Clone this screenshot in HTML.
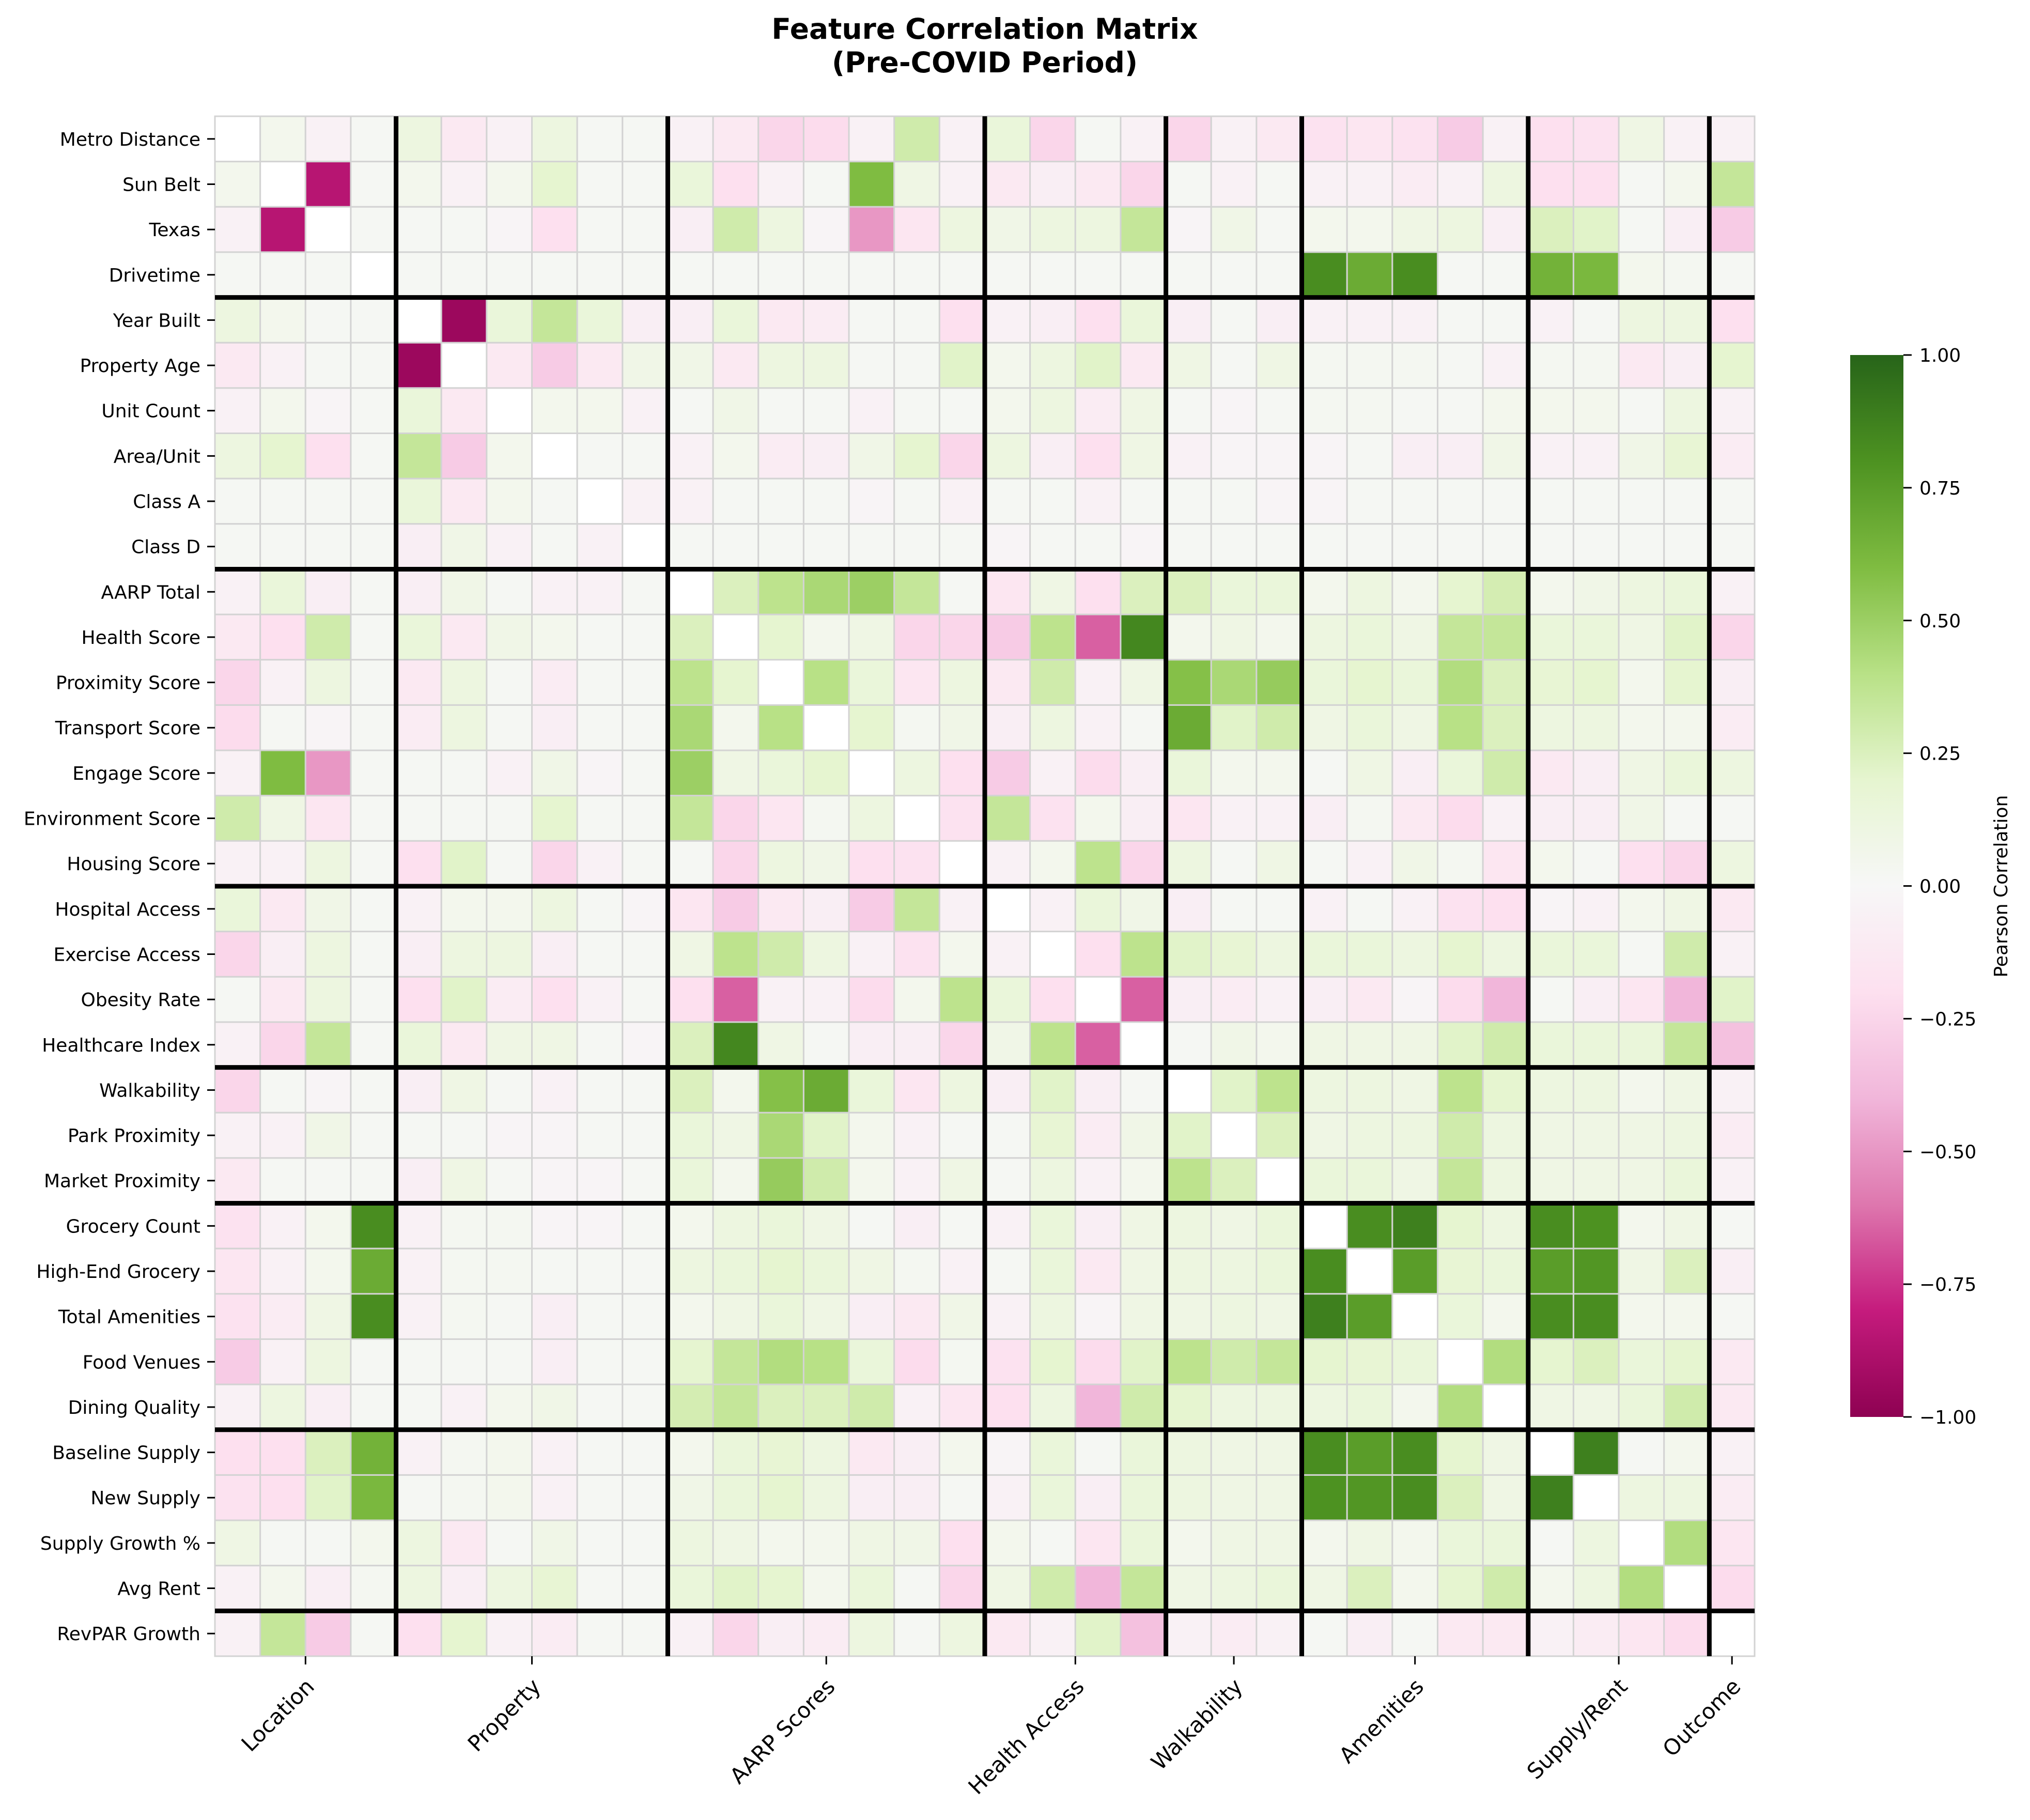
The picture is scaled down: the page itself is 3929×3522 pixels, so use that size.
<!DOCTYPE html>
<html><head><meta charset="utf-8"><title>Feature Correlation Matrix</title>
<style>html,body{margin:0;padding:0;background:#fff}svg{display:block}text{font-family:"DejaVu Sans","Liberation Sans",sans-serif;fill:#000}</style>
</head><body>
<svg id="chart" xmlns="http://www.w3.org/2000/svg" width="3929" height="3522" viewBox="0 0 3929 3522">
<rect x="0" y="0" width="3929" height="3522" fill="#fff"/>
<text x="1906" y="75" text-anchor="middle" font-size="55" font-weight="bold">Feature Correlation Matrix</text>
<text x="1906" y="140" text-anchor="middle" font-size="55" font-weight="bold">(Pre-COVID Period)</text>
<g id="cells"></g>
<g id="seps"></g>
<g id="ylab"></g>
<g id="xlab"></g>
<defs><linearGradient id="cbg" x1="0" y1="1" x2="0" y2="0"></linearGradient></defs>
<rect x="3581" y="687" width="103" height="2055" fill="url(#cbg)"/>
<g id="cbticks"></g>
<text transform="translate(3885,1715) rotate(-90)" text-anchor="middle" font-size="36">Pearson Correlation</text>
</svg>
<script>
const labels = ["Metro Distance","Sun Belt","Texas","Drivetime","Year Built","Property Age","Unit Count","Area/Unit","Class A","Class D","AARP Total","Health Score","Proximity Score","Transport Score","Engage Score","Environment Score","Housing Score","Hospital Access","Exercise Access","Obesity Rate","Healthcare Index","Walkability","Park Proximity","Market Proximity","Grocery Count","High-End Grocery","Total Amenities","Food Venues","Dining Quality","Baseline Supply","New Supply","Supply Growth %","Avg Rent","RevPAR Growth"];
const groupNames = ["Location","Property","AARP Scores","Health Access","Walkability","Amenities","Supply/Rent","Outcome"];
const groupSizes = [4,6,7,4,3,5,4,1];
const cbTicks = [1.0,0.75,0.5,0.25,0.0,-0.25,-0.5,-0.75,-1.0];
const cbTickLabels = ["1.00","0.75","0.50","0.25","0.00","\u22120.25","\u22120.50","\u22120.75","\u22121.00"];
// lower triangle: row i has i values (columns 0..i-1)
const lowerTri = [
[],
[0.05],
[-0.05,-0.85],
[0.02,0.02,0.02],
[0.12,0.05,0.02,0.02],
[-0.12,-0.05,0.02,0.02,-0.95],
[-0.05,0.05,-0.03,0.02,0.15,-0.12],
[0.12,0.2,-0.2,0.02,0.35,-0.3,0.05],
[0.02,0.02,0.02,0.02,0.15,-0.12,0.05,0.02],
[0.02,0.02,0.02,0.02,-0.08,0.08,-0.05,0.02,-0.05],
[-0.05,0.15,-0.08,0.02,-0.08,0.08,0.02,-0.05,-0.05,0.02],
[-0.12,-0.2,0.3,0.02,0.15,-0.12,0.08,0.05,0.02,0.02,0.25],
[-0.25,-0.05,0.12,0.02,-0.12,0.12,0.02,-0.1,0.02,0.02,0.38,0.2],
[-0.22,0.02,-0.03,0.02,-0.1,0.12,0.02,-0.08,0.02,0.02,0.45,0.05,0.4],
[-0.05,0.6,-0.5,0.02,0.02,0.02,-0.05,0.08,-0.03,0.02,0.5,0.1,0.15,0.2],
[0.3,0.1,-0.15,0.02,0.02,0.02,0.02,0.2,0.02,0.02,0.35,-0.25,-0.15,0.03,0.12],
[-0.05,-0.05,0.12,0.02,-0.2,0.22,0.02,-0.25,-0.05,0.02,0.02,-0.25,0.12,0.08,-0.2,-0.18],
[0.15,-0.12,0.08,0.02,-0.05,0.05,0.05,0.12,0.02,-0.03,-0.15,-0.3,-0.12,-0.08,-0.3,0.35,-0.05],
[-0.25,-0.08,0.12,0.02,-0.08,0.12,0.12,-0.08,0.02,0.02,0.1,0.38,0.3,0.12,-0.05,-0.18,0.05,-0.05],
[0.02,-0.12,0.12,0.02,-0.2,0.22,-0.1,-0.2,-0.05,0.02,-0.2,-0.65,-0.05,-0.05,-0.22,0.05,0.38,0.15,-0.2],
[-0.05,-0.25,0.35,0.02,0.15,-0.12,0.1,0.1,0.02,-0.03,0.25,0.85,0.1,0.02,-0.08,-0.08,-0.25,0.08,0.38,-0.65],
[-0.25,0.02,-0.03,0.02,-0.08,0.1,0.02,-0.05,0.02,0.02,0.25,0.05,0.58,0.68,0.15,-0.15,0.12,-0.08,0.22,-0.08,0.02],
[-0.05,-0.05,0.08,0.02,0.02,0.02,-0.03,-0.03,0.02,0.02,0.15,0.1,0.45,0.22,0.05,-0.05,0.02,0.02,0.18,-0.1,0.08,0.22],
[-0.12,0.02,0.02,0.02,-0.08,0.1,0.02,-0.03,-0.03,0.02,0.15,0.05,0.52,0.3,0.05,-0.05,0.1,0.02,0.12,-0.05,0.05,0.38,0.25],
[-0.18,-0.05,0.05,0.82,-0.05,0.03,0.03,-0.03,-0.03,0.02,0.05,0.12,0.15,0.1,0.02,-0.08,0.02,-0.05,0.15,-0.08,0.1,0.12,0.1,0.15],
[-0.15,-0.05,0.05,0.68,-0.05,0.03,0.03,0.02,0.02,0.02,0.12,0.15,0.2,0.15,0.1,0.03,-0.05,0.02,0.15,-0.12,0.1,0.12,0.12,0.15,0.82],
[-0.18,-0.1,0.1,0.82,-0.05,0.03,0.02,-0.08,0.02,0.02,0.05,0.1,0.15,0.1,-0.08,-0.12,0.08,-0.05,0.12,-0.03,0.1,0.1,0.12,0.1,0.88,0.75],
[-0.3,-0.05,0.12,0.02,0.02,0.02,0.02,-0.08,0.02,0.02,0.2,0.35,0.42,0.4,0.15,-0.22,0.03,-0.18,0.2,-0.22,0.22,0.38,0.3,0.35,0.2,0.18,0.15],
[-0.05,0.12,-0.08,0.02,0.02,-0.05,0.05,0.08,0.02,0.02,0.28,0.35,0.25,0.25,0.3,-0.05,-0.15,-0.2,0.12,-0.4,0.3,0.2,0.12,0.12,0.12,0.15,0.05,0.42],
[-0.2,-0.2,0.25,0.65,-0.05,0.03,0.05,-0.05,0.02,0.02,0.05,0.15,0.18,0.12,-0.12,-0.08,0.05,-0.03,0.15,0.02,0.15,0.12,0.1,0.1,0.82,0.75,0.82,0.2,0.1],
[-0.18,-0.2,0.22,0.62,0.02,0.03,0.05,-0.05,0.02,0.02,0.08,0.15,0.2,0.12,-0.08,-0.08,0.02,-0.05,0.15,-0.08,0.15,0.12,0.1,0.1,0.8,0.78,0.82,0.25,0.1,0.88],
[0.1,0.02,0.02,0.05,0.12,-0.12,0.02,0.08,0.02,0.02,0.12,0.1,0.05,0.05,0.1,0.08,-0.2,0.05,0.02,-0.15,0.15,0.05,0.1,0.1,0.05,0.1,0.05,0.15,0.15,0.02,0.12],
[-0.05,0.05,-0.08,0.03,0.12,-0.08,0.12,0.18,0.02,0.02,0.15,0.22,0.2,0.05,0.15,0.02,-0.25,0.1,0.3,-0.4,0.35,0.1,0.12,0.15,0.1,0.25,0.05,0.2,0.3,0.05,0.12,0.42],
[-0.05,0.35,-0.3,0.02,-0.2,0.2,-0.05,-0.1,0.02,0.02,-0.05,-0.25,-0.08,-0.1,0.12,0.02,0.12,-0.12,-0.05,0.22,-0.35,-0.05,-0.1,-0.05,0.02,-0.08,0.02,-0.12,-0.12,-0.05,-0.1,-0.15,-0.22]
];

const NS = "http://www.w3.org/2000/svg";
const N = labels.length;
const X0 = 416, Y0 = 225, W = 2980;
const cell = W / N;
const xScale = c => X0 + c * cell;
const yScale = r => Y0 + r * cell;
const stops = ["#8e0152","#c51b7d","#de77ae","#f1b6da","#fde0ef","#f7f7f7","#e6f5d0","#b8e186","#7fbc41","#4d9221","#276419"];
function hex(h){return [parseInt(h.slice(1,3),16),parseInt(h.slice(3,5),16),parseInt(h.slice(5,7),16)];}
function color(v){
  v = Math.max(-1, Math.min(1, v));
  const t = (v + 1) / 2 * 10;
  const i = Math.min(9, Math.floor(t));
  const f = t - i;
  const a = hex(stops[i]), b = hex(stops[i+1]);
  return "rgb(" + a.map((x,k)=>Math.round(x + (b[k]-x)*f)).join(",") + ")";
}
function val(r,c){ if(r===c) return null; return r>c ? lowerTri[r][c] : lowerTri[c][r]; }

const cells = document.getElementById("cells");
for (let r = 0; r < N; r++) {
  for (let c = 0; c < N; c++) {
    const v = val(r,c);
    const rect = document.createElementNS(NS, "rect");
    rect.setAttribute("x", xScale(c));
    rect.setAttribute("y", yScale(r));
    rect.setAttribute("width", cell);
    rect.setAttribute("height", cell);
    rect.setAttribute("fill", v === null ? "#ffffff" : color(v));
    rect.setAttribute("stroke", "#d3d3d3");
    rect.setAttribute("stroke-width", "3");
    
    
    cells.appendChild(rect);
  }
}

const seps = document.getElementById("seps");
let acc = 0;
const centers = [];
groupSizes.forEach((s, gi) => {
  centers.push(acc + s / 2);
  acc += s;
  if (gi < groupSizes.length - 1) {
    const h = document.createElementNS(NS, "line");
    h.setAttribute("x1", X0); h.setAttribute("x2", X0 + W);
    h.setAttribute("y1", yScale(acc)); h.setAttribute("y2", yScale(acc));
    h.setAttribute("stroke", "#000"); h.setAttribute("stroke-width", "9");
    
    
    seps.appendChild(h);
    const v = document.createElementNS(NS, "line");
    v.setAttribute("y1", Y0); v.setAttribute("y2", Y0 + W);
    v.setAttribute("x1", xScale(acc)); v.setAttribute("x2", xScale(acc));
    v.setAttribute("stroke", "#000"); v.setAttribute("stroke-width", "9");
    
    
    seps.appendChild(v);
  }
});

const ylab = document.getElementById("ylab");
labels.forEach((l, i) => {
  const y = yScale(i) + cell / 2;
  const t = document.createElementNS(NS, "line");
  t.setAttribute("x1", X0 - 15); t.setAttribute("x2", X0);
  t.setAttribute("y1", y); t.setAttribute("y2", y);
  t.setAttribute("stroke", "#000"); t.setAttribute("stroke-width", "3");
  
  
  ylab.appendChild(t);
  const tx = document.createElementNS(NS, "text");
  tx.setAttribute("x", X0 - 28); tx.setAttribute("y", y + 13);
  tx.setAttribute("text-anchor", "end"); tx.setAttribute("font-size", "36");
  tx.textContent = l;
  
  
  ylab.appendChild(tx);
});

const xlab = document.getElementById("xlab");
const yb = Y0 + W;
groupNames.forEach((g, i) => {
  const x = xScale(centers[i]);
  const t = document.createElementNS(NS, "line");
  t.setAttribute("x1", x); t.setAttribute("x2", x);
  t.setAttribute("y1", yb); t.setAttribute("y2", yb + 16);
  t.setAttribute("stroke", "#000"); t.setAttribute("stroke-width", "3");
  
  
  xlab.appendChild(t);
  const tx = document.createElementNS(NS, "text");
  tx.setAttribute("transform", "translate(" + (x - 2) + "," + (yb + 40) + ") rotate(-45)");
  tx.setAttribute("text-anchor", "end");
  tx.setAttribute("dy", "0.72em");
  tx.setAttribute("font-size", "42");
  tx.textContent = g;
  
  
  xlab.appendChild(tx);
});

const grad = document.getElementById("cbg");
stops.forEach((s, i) => {
  const st = document.createElementNS(NS, "stop");
  st.setAttribute("offset", (i / 10));
  st.setAttribute("stop-color", s);
  grad.appendChild(st);
});
const cbt = document.getElementById("cbticks");
const cbTop = 687, cbH = 2055;
cbTicks.forEach((v, i) => {
  const y = cbTop + (1 - v) / 2 * cbH;
  const t = document.createElementNS(NS, "line");
  t.setAttribute("x1", 3684); t.setAttribute("x2", 3700);
  t.setAttribute("y1", y); t.setAttribute("y2", y);
  t.setAttribute("stroke", "#000"); t.setAttribute("stroke-width", "3");
  
  
  cbt.appendChild(t);
  const tx = document.createElementNS(NS, "text");
  tx.setAttribute("x", 3715); tx.setAttribute("y", y + 13);
  tx.setAttribute("font-size", "36");
  tx.textContent = cbTickLabels[i];
  
  
  cbt.appendChild(tx);
});
</script>
</body></html>
